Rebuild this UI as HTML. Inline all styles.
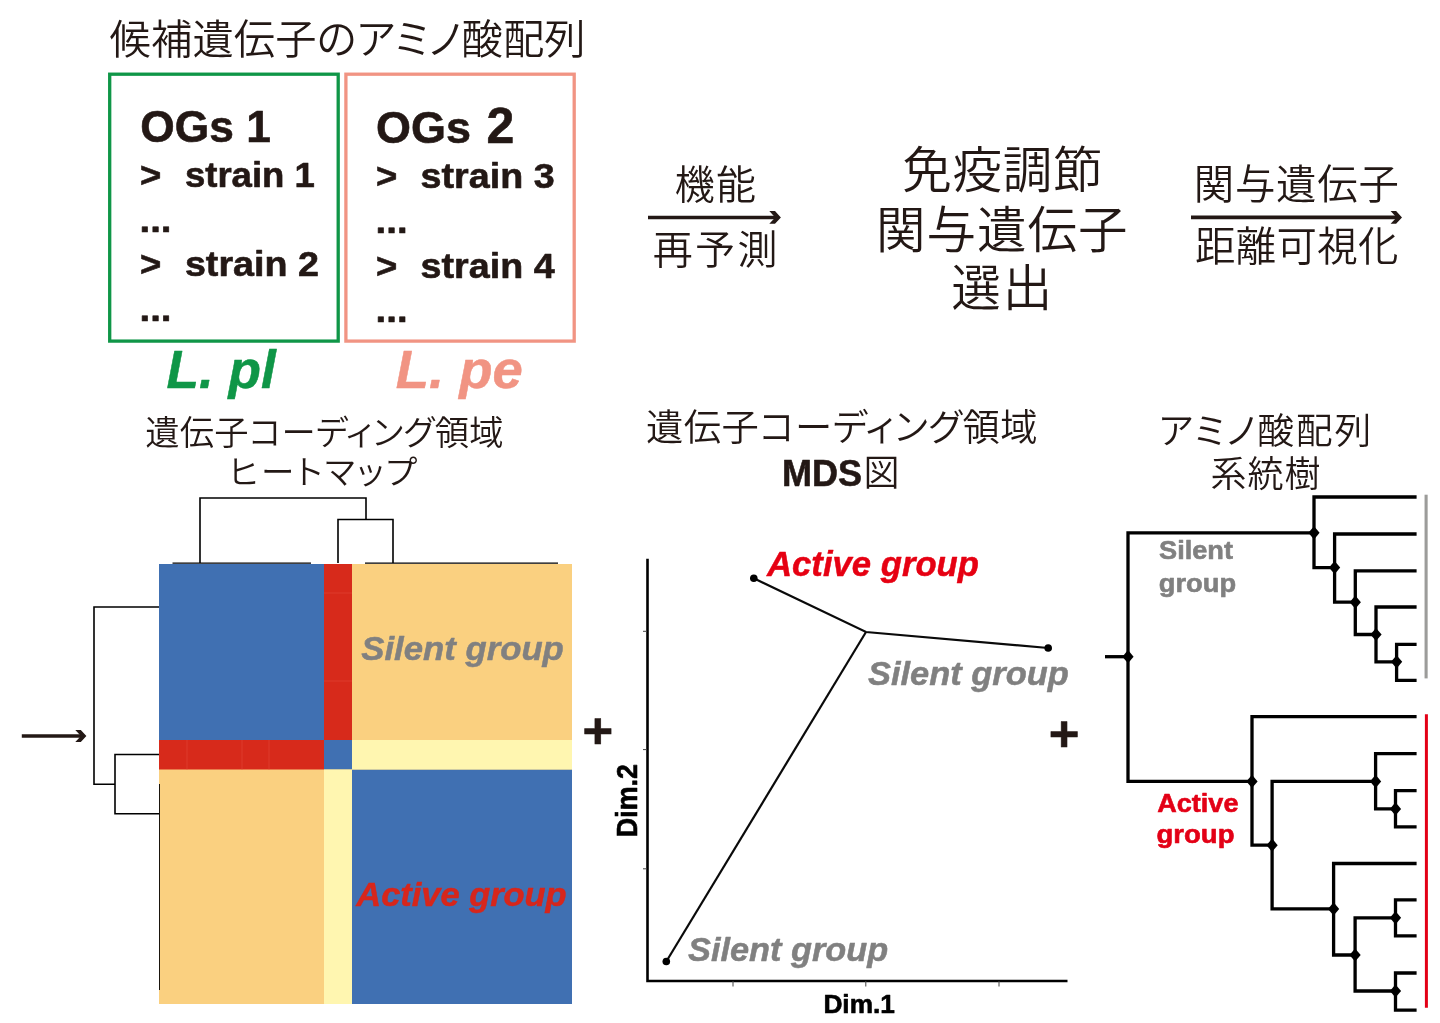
<!DOCTYPE html>
<html lang="ja">
<head>
<meta charset="utf-8">
<title>候補遺伝子のアミノ酸配列</title>
<style>
html,body{margin:0;padding:0;background:#fff;}
body{width:1440px;height:1023px;overflow:hidden;}
svg{display:block;will-change:transform;}
.jp{font-family:"Liberation Sans","Noto Sans CJK JP",sans-serif;font-weight:350;fill:#231815;}
.pa{font-feature-settings:"palt";}
.b{font-family:"Liberation Sans","Noto Sans CJK JP",sans-serif;font-weight:700;color:#231815;fill:currentColor;stroke:currentColor;stroke-width:.6px;stroke-linejoin:round;}
.bi{font-family:"Liberation Sans","Noto Sans CJK JP",sans-serif;font-weight:700;font-style:italic;fill:currentColor;stroke:currentColor;stroke-width:.5px;stroke-linejoin:round;}
</style>
</head>
<body>
<svg width="1440" height="1023" viewBox="0 0 1440 1023">
<rect width="1440" height="1023" fill="#fff"/>

<!-- ===== top-left: title + boxes ===== -->
<g id="topleft">
<text class="jp pa" x="109.5" y="54.3" font-size="41.3" letter-spacing="0.16">候補遺伝子のアミノ酸配列</text>
<rect x="109.7" y="74.2" width="228.5" height="266.9" fill="none" stroke="#0f9647" stroke-width="3.3"/>
<rect x="345.9" y="74.2" width="228.3" height="266.9" fill="none" stroke="#f19483" stroke-width="3.3"/>
<text class="b" x="140.3" y="141.9" font-size="45" textLength="130.5" lengthAdjust="spacingAndGlyphs">OGs 1</text>
<text class="b" x="140" y="187.3" font-size="34.7" textLength="21.3" lengthAdjust="spacingAndGlyphs">&gt;</text>
<text class="b" x="184.9" y="187.3" font-size="34.7" textLength="130" lengthAdjust="spacingAndGlyphs">strain 1</text>
<text class="b" x="139.5" y="232.1" font-size="34.7" textLength="32" lengthAdjust="spacingAndGlyphs">...</text>
<text class="b" x="140" y="275.9" font-size="34.7" textLength="21.3" lengthAdjust="spacingAndGlyphs">&gt;</text>
<text class="b" x="184.9" y="275.9" font-size="34.7" textLength="134" lengthAdjust="spacingAndGlyphs">strain 2</text>
<text class="b" x="139.5" y="321" font-size="34.7" textLength="32" lengthAdjust="spacingAndGlyphs">...</text>
<text class="b" x="376" y="143" font-size="45" textLength="95" lengthAdjust="spacingAndGlyphs">OGs</text>
<text class="b" x="486.5" y="142.8" font-size="50">2</text>
<text class="b" x="376" y="187.6" font-size="34.7" textLength="21.3" lengthAdjust="spacingAndGlyphs">&gt;</text>
<text class="b" x="420.6" y="187.6" font-size="34.7" textLength="134" lengthAdjust="spacingAndGlyphs">strain 3</text>
<text class="b" x="375.6" y="232.9" font-size="34.7" textLength="32" lengthAdjust="spacingAndGlyphs">...</text>
<text class="b" x="376" y="278" font-size="34.7" textLength="21.3" lengthAdjust="spacingAndGlyphs">&gt;</text>
<text class="b" x="420.6" y="278" font-size="34.7" textLength="134" lengthAdjust="spacingAndGlyphs">strain 4</text>
<text class="b" x="375.6" y="322" font-size="34.7" textLength="32" lengthAdjust="spacingAndGlyphs">...</text>
<text class="bi" x="166.5" y="388.1" font-size="54" textLength="109.2" lengthAdjust="spacingAndGlyphs" style="color:#0f9647">L. pl</text>
<text class="bi" x="395.7" y="388.1" font-size="54" textLength="127" lengthAdjust="spacingAndGlyphs" style="color:#f19483">L. pe</text>
</g>

<!-- ===== top-middle / right: flow text ===== -->
<g id="flow">
<text class="jp" x="674.7" y="199" font-size="40" letter-spacing="1.2">機能</text>
<text class="jp" x="652.7" y="264" font-size="40" letter-spacing="2.4">再予測</text>
<path d="M648 217.4H777" stroke="#231815" stroke-width="3.5" fill="none"/>
<path d="M769.3 211.0L775.0 211.0L780.9 217.4L775.0 223.8L769.3 223.8L775.2 217.4Z" fill="#231815"/>
<text class="jp" x="902.2" y="188" font-size="49.5" letter-spacing="0.75">免疫調節</text>
<text class="jp" x="876" y="248.3" font-size="49.5" letter-spacing="1">関与遺伝子</text>
<text class="jp" x="951.3" y="305.5" font-size="49.5" letter-spacing="2">選出</text>
<text class="jp" x="1193.7" y="199.3" font-size="40.4" letter-spacing="0.8">関与遺伝子</text>
<text class="jp" x="1195" y="261.3" font-size="40.4" letter-spacing="0.35">距離可視化</text>
<path d="M1191 217.3H1398" stroke="#231815" stroke-width="3.7" fill="none"/>
<path d="M1390.6 211.1L1396.1 211.1L1402.0 217.4L1396.1 223.7L1390.6 223.7L1396.5 217.4Z" fill="#231815"/>
</g>

<!-- ===== heatmap ===== -->
<g id="heatmap">
<text class="jp pa" x="145.2" y="445" font-size="34.3" letter-spacing="0.28">遺伝子コーディング領域</text>
<text class="jp pa" x="228.7" y="484" font-size="33.5" letter-spacing="2.4">ヒートマップ</text>
<rect x="159" y="564" width="413" height="440" fill="#fad080"/>
<rect x="159" y="564" width="165" height="176" fill="#4070b2"/>
<rect x="352" y="769.5" width="220" height="234.5" fill="#4070b2"/>
<rect x="324" y="564" width="28" height="176" fill="#d72a1b"/>
<rect x="159" y="740" width="165" height="29.5" fill="#d72a1b"/>
<rect x="324" y="740" width="28" height="29.5" fill="#4070b2"/>
<rect x="352" y="740" width="220" height="29.5" fill="#fff6b0"/>
<rect x="324" y="769.5" width="28" height="234.5" fill="#fff6b0"/>
<path d="M324 593H352M324 681H352M187 740V769.5M242 740V769.5M269 740V769.5" stroke="#e0483a" stroke-width="0.6" fill="none"/>
<!-- dendrograms -->
<g fill="none" stroke="#000" stroke-width="1.6">
<path d="M200 563V498H366V519.5"/>
<path d="M338 563V519.5H393V563"/>
<path d="M172.5 563.2H311M365 563.2H558" stroke-width="1.2"/>
<path d="M159 607H94V784.2H115"/>
<path d="M159 754.5H115V813.8H159"/>
<path d="M159.5 784V990" stroke-width="0.9"/>
</g>
<path d="M21.8 735.9H82" stroke="#231815" stroke-width="3.5" fill="none"/>
<path d="M75.3 729.9L80.8 729.9L86.4 735.9L80.8 741.9L75.3 741.9L80.9 735.9Z" fill="#231815"/>
<text class="bi" x="361.3" y="660" font-size="33.5" textLength="202.5" lengthAdjust="spacingAndGlyphs" style="color:#808080">Silent group</text>
<text class="bi" x="356.3" y="906" font-size="33.5" textLength="210.3" lengthAdjust="spacingAndGlyphs" style="color:#d7261b">Active group</text>
</g>

<text class="b" x="582.6" y="748.3" font-size="50" textLength="30.7" lengthAdjust="spacingAndGlyphs">+</text>
<text class="b" x="1048.7" y="750.9" font-size="50" textLength="30.7" lengthAdjust="spacingAndGlyphs">+</text>

<!-- ===== MDS ===== -->
<g id="mds">
<text class="jp pa" x="646" y="440.6" font-size="37.3" letter-spacing="0.5">遺伝子コーディング領域</text>
<text class="b" x="782" y="485.5" font-size="36">MDS<tspan font-weight="350" style="stroke:none" dx="1.5">図</tspan></text>
<path d="M647.5 558.8V981H1067.5" fill="none" stroke="#000" stroke-width="2.6"/>
<g stroke="#444" stroke-width="1">
<path d="M643 631.3H647M643 749.6H647M643 868.8H647"/>
<path d="M733 981V986.5M865.8 981V986.5M999 981V986.5"/>
</g>
<g fill="none" stroke="#0a0a0a" stroke-width="2.2">
<path d="M753.8 578.3L866 632L1048.2 648"/>
<path d="M866 632L666.3 961.5"/>
</g>
<circle cx="753.8" cy="578.3" r="3.8"/>
<circle cx="1048.2" cy="648" r="3.8"/>
<circle cx="666.3" cy="961.5" r="3.8"/>
<text class="bi" x="767" y="575.6" font-size="35.2" textLength="212" lengthAdjust="spacingAndGlyphs" style="color:#e60012">Active group</text>
<text class="bi" x="868" y="685" font-size="33.5" textLength="200.7" lengthAdjust="spacingAndGlyphs" style="color:#808080">Silent group</text>
<text class="bi" x="688" y="960.8" font-size="33.5" textLength="200.2" lengthAdjust="spacingAndGlyphs" style="color:#808080">Silent group</text>
<text class="b" x="823.4" y="1013.3" font-size="25.5" textLength="71.5" lengthAdjust="spacingAndGlyphs" style="color:#000">Dim.1</text>
<text class="b" transform="translate(636.9 837.2) rotate(-90)" font-size="30.3" textLength="73.2" lengthAdjust="spacingAndGlyphs" style="color:#000">Dim.2</text>
</g>

<!-- ===== tree ===== -->
<g id="tree">
<text class="jp pa" x="1158.9" y="443.6" font-size="36.8" letter-spacing="1.82">アミノ酸配列</text>
<text class="jp" x="1210.5" y="487.3" font-size="36" letter-spacing="1">系統樹</text>
<g fill="none" stroke="#000" stroke-width="3.3" stroke-linejoin="miter">
<path d="M1105 656.7H1128"/>
<path d="M1314 532.8H1128V781.4H1252"/>
<path d="M1416.6 497H1314V567.6H1334.6"/>
<path d="M1416.6 534H1334.6V602.2H1355.3"/>
<path d="M1416.6 570.8H1355.3V634.5H1376"/>
<path d="M1416.6 607H1376V661.8H1396.6"/>
<path d="M1416.6 644.3H1396.6V680.3H1416.6"/>
<path d="M1416.6 716.6H1252V845.2H1272.1"/>
<path d="M1375.6 781.4H1272.1V908.9H1333.6"/>
<path d="M1416.6 753.7H1375.6V808.9H1395.5"/>
<path d="M1416.6 790.6H1395.5V826.9H1416.6"/>
<path d="M1416.6 863.5H1333.6V955H1355.1"/>
<path d="M1395.5 917.8H1355.1V991H1395.5"/>
<path d="M1416.6 899.8H1395.5V935.8H1416.6"/>
<path d="M1416.6 973H1395.5V1010.2H1416.6"/>
</g>
<g fill="#000">
<path id="dm" d="M0 -6.6L5.6 0L0 6.6L-5.6 0Z" transform="translate(1128 656.7)"/>
<path d="M0 -6.6L5.6 0L0 6.6L-5.6 0Z" transform="translate(1314 532.8)"/>
<path d="M0 -6.6L5.6 0L0 6.6L-5.6 0Z" transform="translate(1334.6 567.6)"/>
<path d="M0 -6.6L5.6 0L0 6.6L-5.6 0Z" transform="translate(1355.3 602.2)"/>
<path d="M0 -6.6L5.6 0L0 6.6L-5.6 0Z" transform="translate(1376 634.5)"/>
<path d="M0 -6.6L5.6 0L0 6.6L-5.6 0Z" transform="translate(1396.6 661.8)"/>
<path d="M0 -6.6L5.6 0L0 6.6L-5.6 0Z" transform="translate(1252 781.4)"/>
<path d="M0 -6.6L5.6 0L0 6.6L-5.6 0Z" transform="translate(1272.1 845.2)"/>
<path d="M0 -6.6L5.6 0L0 6.6L-5.6 0Z" transform="translate(1375.6 781.4)"/>
<path d="M0 -6.6L5.6 0L0 6.6L-5.6 0Z" transform="translate(1395.5 808.9)"/>
<path d="M0 -6.6L5.6 0L0 6.6L-5.6 0Z" transform="translate(1333.6 908.9)"/>
<path d="M0 -6.6L5.6 0L0 6.6L-5.6 0Z" transform="translate(1355.1 955)"/>
<path d="M0 -6.6L5.6 0L0 6.6L-5.6 0Z" transform="translate(1395.5 917.8)"/>
<path d="M0 -6.6L5.6 0L0 6.6L-5.6 0Z" transform="translate(1395.5 991)"/>
</g>
<path d="M1426.1 494.7V678.4" stroke="#9c9c9a" stroke-width="3.1" fill="none"/>
<path d="M1426.4 714.2V1007.7" stroke="#e30016" stroke-width="3" fill="none"/>
<text class="b" x="1159" y="559" font-size="26.5" textLength="74" lengthAdjust="spacingAndGlyphs" style="color:#808080">Silent</text>
<text class="b" x="1158.8" y="592.4" font-size="26.5" textLength="77.3" lengthAdjust="spacingAndGlyphs" style="color:#808080">group</text>
<text class="b" x="1157.2" y="812" font-size="26" textLength="81.3" lengthAdjust="spacingAndGlyphs" style="color:#e30016">Active</text>
<text class="b" x="1156.5" y="843.3" font-size="26" textLength="78" lengthAdjust="spacingAndGlyphs" style="color:#e30016">group</text>
</g>
</svg>
</body>
</html>
